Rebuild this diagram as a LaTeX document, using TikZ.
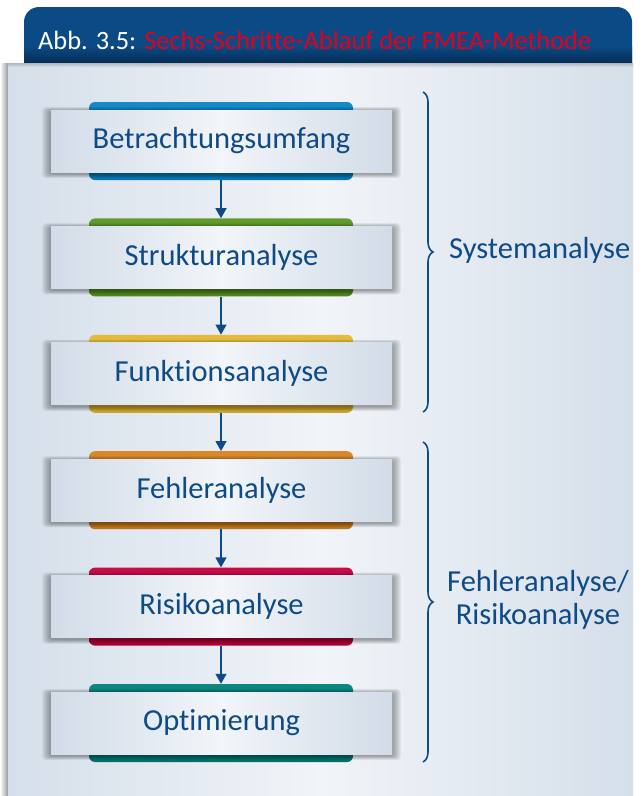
\documentclass[tikz,border=0pt]{standalone}
\usepackage{fontspec}
\setmainfont{Carlito}[Ligatures={NoCommon}]
\newfontfamily\titlefont{Carlito}[Ligatures={NoCommon}]
\usetikzlibrary{arrows.meta,decorations.pathreplacing,calc}
\definecolor{hdr}{HTML}{0B4A85}
\definecolor{hdrdark}{HTML}{042B52}
\definecolor{ttlred}{HTML}{E3001B}
\definecolor{txtblue}{HTML}{0E4A86}
\definecolor{panelside}{HTML}{D5DFEA}
\definecolor{panelmid}{HTML}{F1F4F8}
\definecolor{boxside}{HTML}{D2DCE8}
\definecolor{boxmid}{HTML}{F2F5F9}
\definecolor{cblue}{HTML}{0A84C6}
\definecolor{cgreen}{HTML}{5A9622}
\definecolor{cyellow}{HTML}{E4B832}
\definecolor{corange}{HTML}{D8821F}
\definecolor{cred}{HTML}{C3003D}
\definecolor{cteal}{HTML}{00807A}
\tikzset{
  colbar/.style={rounded corners=6pt, minimum width=264pt, minimum height=78pt, inner sep=0pt, draw=none},
  boxbase/.style={minimum width=341pt, minimum height=62pt, inner sep=0pt, draw=none},
  shadelayer/.style={fill=black, opacity=0.045, rounded corners=4pt},
  stepbox/.style={boxbase, left color=boxside, right color=boxside, middle color=boxmid,
     text=txtblue, font=\fontsize{30.5}{36}\selectfont},
  arr/.style={draw=txtblue, line width=1.3pt, -{Triangle[length=10pt,width=11pt]}},
  brc/.style={draw=txtblue, line width=1.6pt, decorate, decoration={brace, amplitude=10pt}},
  grplabel/.style={text=txtblue, font=\fontsize{30.5}{33}\selectfont, align=center, inner sep=0pt}
}
\begin{document}
\begin{tikzpicture}[x=1pt,y=-1pt]
\useasboundingbox (0,0) rectangle (641,796);
\fill[white] (0,0) rectangle (641,796);
% header
\fill[hdr, rounded corners=15pt] (24,7) rectangle (632,90);
\shade[top color=hdr, bottom color=hdrdark] (24,46) rectangle (632,64);
% panel with left shadow
\shade[left color=white, right color=black!40] (0,63) rectangle (8,796);
\shade[left color=panelside, right color=panelside, middle color=panelmid] (8,63) rectangle (633,800);
\shade[top color=black!45, bottom color=panelside, opacity=0.5] (8,63) rectangle (633,67);
\node[anchor=base west, inner sep=0pt, font=\titlefont\fontsize{26.4}{30}\selectfont] (title) at (38,49)
  {\textcolor{white}{Abb. 3.5:} \textcolor{ttlred}{Sechs-Schritte-Ablauf der FMEA-Methode}};
% steps
\foreach \i/\c/\t in {1/cblue/Betrachtungsumfang, 2/cgreen/Strukturanalyse, 3/cyellow/Funktionsanalyse,
  4/corange/Fehleranalyse, 5/cred/Risikoanalyse, 6/cteal/Optimierung}{
  \pgfmathsetmacro{\yy}{141+116.4*(\i-1)}
  \node[colbar, top color=\c!95!white, bottom color=\c!88!black] (r\i) at (221,\yy) {};
  \node[boxbase] (sh\i) at (221.5,\yy+1.5) {};
  \foreach \k in {1,...,9}{
    \fill[shadelayer] ($(sh\i.south west)+(-\k,0.5*\k)$) rectangle ($(sh\i.north east)+(\k,-0.5*\k)$);
  }
  \node[stepbox] (b\i) at (221.5,\yy) {\t};
}
\foreach \i/\j in {1/2,2/3,3/4,4/5,5/6}{
  \draw[arr] (r\i.south) -- (r\j.north);
}
% braces
\coordinate (s1) at (423,92);
\coordinate (e1) at (423,412);
\coordinate (s2) at (423,442);
\coordinate (e2) at (423,762);
\draw[brc] (s1) -- (e1);
\draw[brc] (s2) -- (e2);
\node[grplabel, anchor=west] (g1) at (449,250) {Systemanalyse};
\node[grplabel] (g2) at (538,600) {Fehleranalyse/\\Risikoanalyse};
\end{tikzpicture}
\end{document}
